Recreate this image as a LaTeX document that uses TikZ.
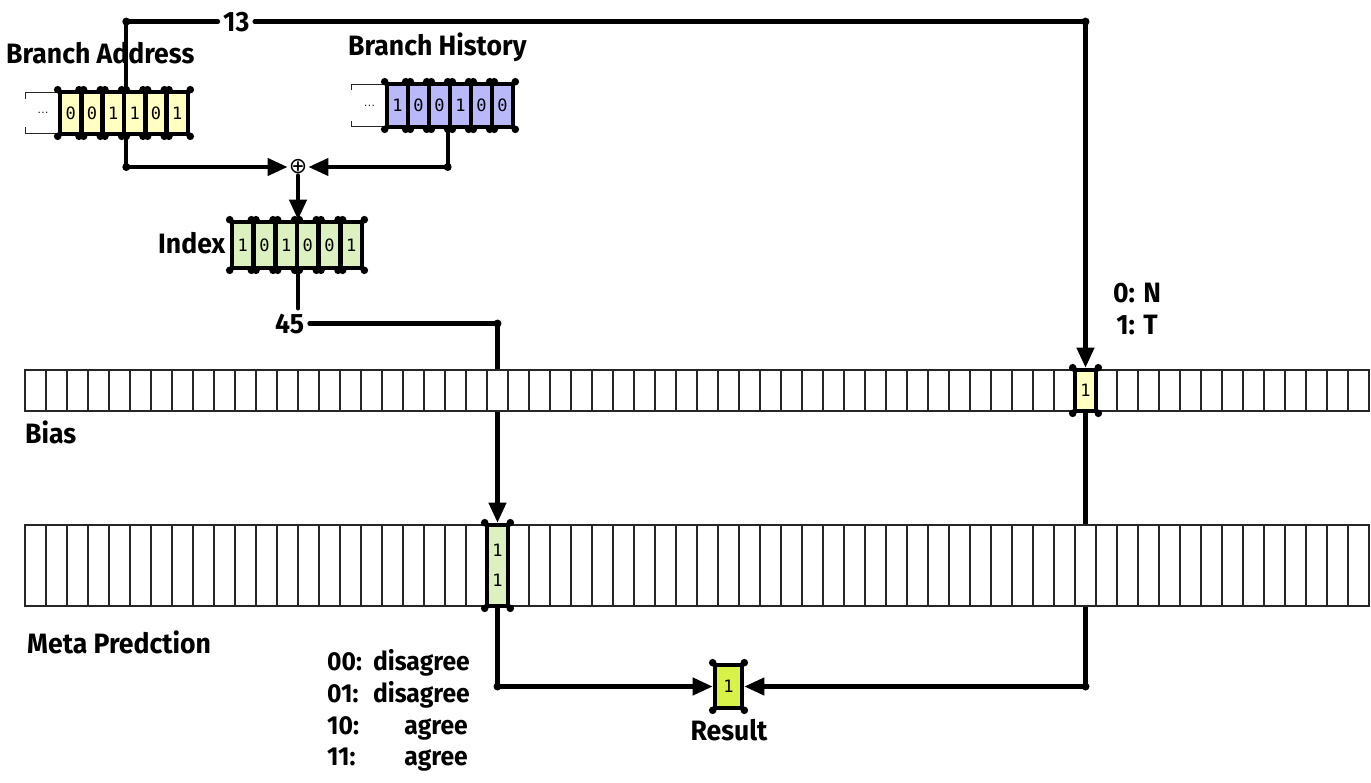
\documentclass[tikz,border=0pt]{standalone}
\usepackage{fontspec}
\usetikzlibrary{arrows.meta,calc}
\newfontfamily\lblfont{Fira Sans}[FakeStretch=0.95]
\newfontfamily\bitfont{DejaVu Sans Mono}
\newfontfamily\symbfont{DejaVu Sans}
\definecolor{ycell}{HTML}{FFFFC2}
\definecolor{pcell}{HTML}{B9B9FA}
\definecolor{gcell}{HTML}{DCF0C0}
\definecolor{rcell}{HTML}{D8F24A}
\tikzset{
  lbl/.style={font=\lblfont\bfseries\fontsize{28}{32}\selectfont, inner sep=0pt},
  lgd/.style={font=\lblfont\bfseries\fontsize{26}{30}\selectfont, inner sep=0pt},
  bitbox/.style={draw, line width=4.6pt, inner sep=0pt, font=\bitfont\fontsize{17}{18}\selectfont},
  rowcell/.style={draw=black!85, line width=1.4pt, fill=white, inner sep=0pt, minimum width=21pt},
  conn/.style={line width=4.2pt, line cap=round, line join=round},
  arr/.style={conn, -{Triangle[length=20pt,width=17pt]}},
  thin bracket/.style={line width=1.3pt, draw=black!85},
}
\begin{document}
\begin{tikzpicture}[x=1pt,y=-1pt]
\useasboundingbox (0,0) rectangle (1371,782);

% ---------- labels ----------
\node[lbl, anchor=base west] (lBA) at (6,63) {Branch Address};
\node[lbl, anchor=base west] (lBH) at (348,55) {Branch History};
\node[lbl, anchor=base west] (lIdx) at (158,253) {Index};
\node[lbl, anchor=base west, inner sep=5pt] (n13) at (218,31) {13};
\node[lbl, anchor=base west, inner sep=5pt] (n45) at (270,333) {45};
\node[lbl, align=center] (lNT) at (1137,309) {0: N\\1: T};
\node[lbl, anchor=base west] (lBias) at (25,443) {Bias};
\node[lbl, anchor=base west] (lMeta) at (27,653) {Meta Predction};
\node[lgd, anchor=base west] (k1) at (327,670) {00:};
\node[lgd, anchor=base east] (v1) at (470,670) {disagree};
\node[lgd, anchor=base west] (k2) at (327,702) {01:};
\node[lgd, anchor=base east] (v2) at (470,702) {disagree};
\node[lgd, anchor=base west] (k3) at (327,734) {10:};
\node[lgd, anchor=base east] (v3) at (468,734) {agree};
\node[lgd, anchor=base west] (k4) at (327,765) {11:};
\node[lgd, anchor=base east] (v4) at (468,765) {agree};
\node[lbl, anchor=base] (lRes) at (729,740) {Result};

% ---------- registers ----------
\node[inner sep=0pt, minimum width=34pt, minimum height=40pt, font=\fontsize{14}{14}\selectfont] (aL) at (43,113) {...};
\draw[thin bracket] (aL.north west) ++(0,6) -- (aL.north west) -- (aL.north east);
\draw[thin bracket] (aL.south west) ++(0,-6) -- (aL.south west) -- (aL.south east);
\foreach \b [count=\i] in {0,0,1,1,0,1}
  \node[bitbox, fill=ycell, minimum width=21.33pt, minimum height=42pt] (a\i) at ({60+21.33*(\i-0.5)},113) {\b};

\node[inner sep=0pt, minimum width=35pt, minimum height=42pt, font=\fontsize{14}{14}\selectfont] (hL) at (369.5,105.5) {...};
\draw[thin bracket] (hL.north west) ++(0,6) -- (hL.north west) -- (hL.north east);
\draw[thin bracket] (hL.south west) ++(0,-6) -- (hL.south west) -- (hL.south east);
\foreach \b [count=\i] in {1,0,0,1,0,0}
  \node[bitbox, fill=pcell, minimum width=21pt, minimum height=43pt] (h\i) at ({387+21*(\i-0.5)},105.5) {\b};

\foreach \b [count=\i] in {1,0,1,0,0,1}
  \node[bitbox, fill=gcell, minimum width=21.67pt, minimum height=46pt] (i\i) at ({232+21.67*(\i-0.5)},245) {\b};

\node[inner sep=1pt, font=\symbfont\fontsize{22}{22}\selectfont] (xor) at (298,167) {⊕};

% ---------- target cells (positions) ----------
\coordinate (bTc) at (1085.5,390.5);
\coordinate (mSc) at (497.5,565.5);
\node[bitbox, fill=ycell, minimum width=21pt, minimum height=41pt] (bT) at (bTc) {1};
\node[bitbox, fill=gcell, minimum width=21pt, minimum height=81pt, align=center,
      font=\bitfont\fontsize{17}{30}\selectfont] (mS) at (mSc) {1\\1};
\node[bitbox, fill=rcell, minimum width=27pt, minimum height=43pt] (res) at (728.5,686.5) {1};

% ---------- connectors ----------
\draw[conn] (a3.north east) -- (a3.north east |- n13.west) -- (n13.west);
\draw[arr] (n13.east) -- (n13.east -| bT.north) -- (bT.north);
\draw[arr] (a3.south east) |- (xor.west);
\draw[arr] (h4.south west) |- (xor.east);
\draw[arr] (xor.south) -- (xor.south |- i1.north);
\draw[conn] (xor |- i1.south) -- (xor |- n45.north);
\draw[arr] (n45.east) -- (n45.east -| mS.north) -- (mS.north);
\draw[arr] (bT.south) |- (res.east);
\draw[arr] (mS.south) |- (res.west);

% ---------- rows ----------
\foreach \i in {0,...,63}
  \node[rowcell, minimum height=41pt] (b\i) at ({25+21*\i+10.5},390.5) {};
\foreach \i in {0,...,63}
  \node[rowcell, minimum height=81pt] (m\i) at ({25+21*\i+10.5},565.5) {};

% redraw highlighted cells on top
\node[bitbox, fill=ycell, minimum width=21pt, minimum height=41pt] at (bTc) {1};
\node[bitbox, fill=gcell, minimum width=21pt, minimum height=81pt, align=center,
      font=\bitfont\fontsize{17}{30}\selectfont] at (mSc) {1\\1};

% ---------- corner dots ----------
\foreach \n in {a1,a2,a3,a4,a5,a6,h1,h2,h3,h4,h5,h6,i1,i2,i3,i4,i5,i6,bT,mS,res} {
  \fill (\n.north west) circle[radius=3.8pt];
  \fill (\n.north east) circle[radius=3.8pt];
  \fill (\n.south west) circle[radius=3.8pt];
  \fill (\n.south east) circle[radius=3.8pt];
}
\fill (a3.north east |- n13.west) circle[radius=4pt];
\fill (n13.east -| bT.north) circle[radius=4pt];
\fill (a3.south east |- xor.west) circle[radius=4pt];
\fill (h4.south west |- xor.east) circle[radius=4pt];
\fill (n45.east -| mS.north) circle[radius=4pt];
\fill (bT.south |- res.east) circle[radius=4pt];
\fill (mS.south |- res.west) circle[radius=4pt];
\end{tikzpicture}
\end{document}
